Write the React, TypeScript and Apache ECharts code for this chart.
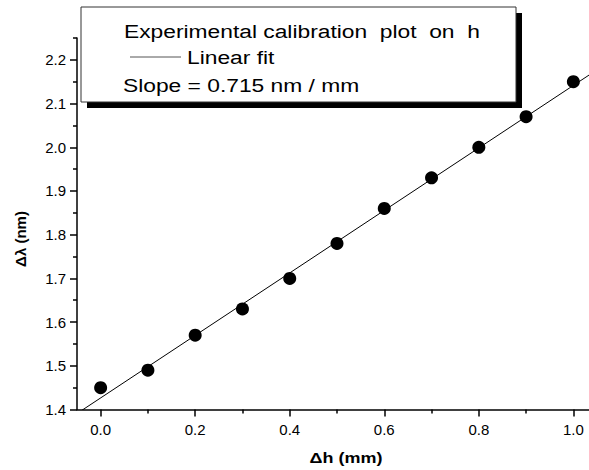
import React, { useEffect, useRef } from "react";
import * as echarts from "echarts";

// Measured wavelength shift against height change
const dh: number[] = [0.0, 0.1, 0.2, 0.3, 0.4, 0.5, 0.6, 0.7, 0.8, 0.9, 1.0];
const dLambda: number[] = [1.45, 1.49, 1.57, 1.63, 1.70, 1.78, 1.86, 1.93, 2.0, 2.07, 2.15];

// Linear fit parameters
const FIT_SLOPE = 0.715;
const FIT_INTERCEPT = 1.4265;
const fitRange: number[] = [-0.05, 1.05];

// Axis ticks
const xMajor: number[] = [0.0, 0.2, 0.4, 0.6, 0.8, 1.0];
const xMinor: number[] = [0.1, 0.3, 0.5, 0.7, 0.9];
const yMajor: number[] = [1.4, 1.5, 1.6, 1.7, 1.8, 1.9, 2.0, 2.1, 2.2];
const yMinor: number[] = [1.45, 1.55, 1.65, 1.75, 1.85, 1.95, 2.05, 2.15, 2.25];

const legendTitle = "Experimental calibration  plot  on  h";
const legendFit = "Linear fit";
const legendSlope = "Slope = 0.715 nm / mm";
const xName = "\u0394h (mm)";
const yName = "\u0394\u03bb (nm)";

const FONT = "'Liberation Sans', Arial, Helvetica, sans-serif";
const STRETCH = 1.2;

export default function App() {
  const ref = useRef<HTMLDivElement>(null);

  useEffect(() => {
    if (!ref.current) return;
    const chart = echarts.init(ref.current, undefined, { renderer: "svg" });

    const points = dh.map((x, i) => [x, dLambda[i]]);
    const fitLine = fitRange.map((x) => [x, FIT_INTERCEPT + FIT_SLOPE * x]);

    const labelStyle = { color: "#000", fontSize: 15, fontFamily: FONT };
    const tickStyle = { color: "#000", width: 1.5 };

    const legendText = (text: string, x: number, y: number) => ({
      type: "text",
      x,
      y,
      scaleX: STRETCH,
      z: 12,
      style: { text, fontSize: 19, fontFamily: FONT, fill: "#000", align: "left", verticalAlign: "middle" },
    });

    chart.setOption({
      animation: false,
      backgroundColor: "#fff",
      grid: {
        left: 77,
        top: 38,
        width: 520,
        height: 371.5,
        containLabel: false,
        outerBoundsMode: "none",
      },
      xAxis: [
        {
          type: "value",
          min: -0.05,
          max: 1.05,
          axisLine: { show: true, onZero: false, lineStyle: tickStyle },
          axisTick: { show: true, length: 7, inside: false, customValues: xMajor, lineStyle: tickStyle },
          axisLabel: { ...labelStyle, margin: 12, customValues: xMajor, formatter: (v: number) => v.toFixed(1) },
          splitLine: { show: false },
        },
        {
          type: "value",
          min: -0.05,
          max: 1.05,
          position: "bottom",
          axisLine: { show: false, onZero: false },
          axisTick: { show: true, length: 4, inside: false, customValues: xMinor, lineStyle: tickStyle },
          axisLabel: { show: false },
          splitLine: { show: false },
        },
      ],
      yAxis: [
        {
          type: "value",
          min: 1.4,
          max: 2.25,
          axisLine: { show: true, onZero: false, lineStyle: tickStyle },
          axisTick: { show: true, length: 7, inside: false, customValues: yMajor, lineStyle: tickStyle },
          axisLabel: { ...labelStyle, margin: 11, customValues: yMajor, formatter: (v: number) => v.toFixed(1) },
          splitLine: { show: false },
        },
        {
          type: "value",
          min: 1.4,
          max: 2.25,
          position: "left",
          axisLine: { show: false, onZero: false },
          axisTick: { show: true, length: 4, inside: false, customValues: yMinor, lineStyle: tickStyle },
          axisLabel: { show: false },
          splitLine: { show: false },
        },
      ],
      series: [
        {
          type: "line",
          data: fitLine,
          showSymbol: false,
          symbol: "none",
          clip: true,
          lineStyle: { color: "#000", width: 1 },
          z: 2,
        },
        {
          type: "scatter",
          data: points,
          symbol: "circle",
          symbolSize: 13,
          itemStyle: { color: "#000", opacity: 1 },
          clip: false,
          z: 3,
        },
      ],
      graphic: [
        // legend box with its drop shadow
        { type: "rect", shape: { x: 87, y: 13, width: 435, height: 95 }, style: { fill: "#000" }, z: 10 },
        { type: "rect", shape: { x: 81, y: 7, width: 435, height: 95 }, style: { fill: "#fff", stroke: "#333", lineWidth: 1 }, z: 11 },
        legendText(legendTitle, 124, 31.5),
        { type: "line", shape: { x1: 130, y1: 57, x2: 181, y2: 57 }, style: { stroke: "#555", lineWidth: 1 }, z: 12 },
        legendText(legendFit, 187, 57.5),
        legendText(legendSlope, 123, 85),
        // axis titles
        {
          type: "text", x: 346, y: 458, scaleX: STRETCH, z: 12,
          style: { text: xName, fontSize: 15, fontWeight: "bold", fontFamily: FONT, fill: "#000", align: "center", verticalAlign: "middle" },
        },
        {
          type: "text", x: 20, y: 239, rotation: Math.PI / 2, z: 12,
          style: { text: yName, fontSize: 15, fontWeight: "bold", fontFamily: FONT, fill: "#000", align: "center", verticalAlign: "middle" },
        },
      ],
    });

    return () => chart.dispose();
  }, []);

  return (
    <div
      ref={ref}
      style={{ position: "absolute", left: 0, top: 0, width: 589, height: 470 }}
    />
  );
}
